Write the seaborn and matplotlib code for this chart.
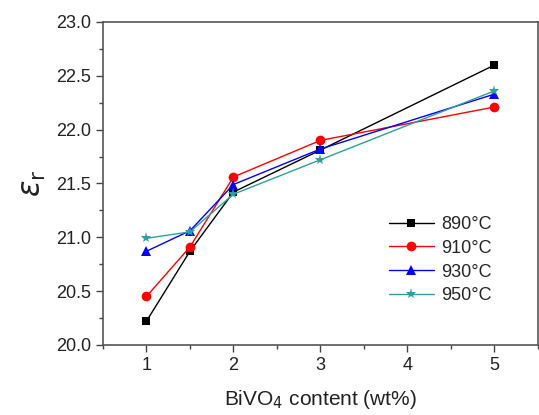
import pandas as pd
import matplotlib.pyplot as plt
import seaborn as sns
from matplotlib.ticker import MultipleLocator

# data
content = [1, 1.5, 2, 3, 5]
eps_890 = [20.22, 20.87, 21.42, 21.81, 22.60]
eps_910 = [20.45, 20.91, 21.56, 21.90, 22.21]
eps_930 = [20.87, 21.06, 21.49, 21.82, 22.33]
eps_950 = [20.99, 21.05, 21.40, 21.72, 22.36]
temps = ['890°C', '910°C', '930°C', '950°C']

rows = []
for t, vals in zip(temps, [eps_890, eps_910, eps_930, eps_950]):
    for x, v in zip(content, vals):
        rows.append({'content': x, 'eps': v, 'temp': t})
df = pd.DataFrame(rows)

sns.set_style('ticks')
plt.rcParams['font.family'] = ['Liberation Sans', 'DejaVu Sans']
plt.rcParams['mathtext.fontset'] = 'dejavusans'

fig = plt.figure(figsize=(5.39, 4.15), dpi=100)
ax = fig.add_axes([0.191, 0.169, 0.807, 0.778])

palette = {'890°C': 'black', '910°C': 'red', '930°C': 'blue', '950°C': '#2f9e9e'}
markers = {'890°C': 's', '910°C': 'o', '930°C': '^', '950°C': '*'}
sizes = {'890°C': 6, '910°C': 7, '930°C': 7, '950°C': 8}

for t in temps:
    sub = df[df['temp'] == t]
    sns.lineplot(data=sub, x='content', y='eps', ax=ax, color=palette[t],
                 marker=markers[t], markersize=sizes[t], markeredgewidth=0,
                 linewidth=1.0, label=t)

ax.set_xlim(0.5, 5.5)
ax.set_ylim(20.0, 23.0)
ax.xaxis.set_major_locator(MultipleLocator(1))
ax.xaxis.set_minor_locator(MultipleLocator(0.5))
ax.yaxis.set_major_locator(MultipleLocator(0.5))
ax.yaxis.set_minor_locator(MultipleLocator(0.25))
ax.yaxis.set_major_formatter(plt.FormatStrFormatter('%.1f'))
ax.tick_params(which='major', length=5, width=1, color='#444444',
               labelsize=13, labelcolor='#222222', direction='out')
ax.tick_params(which='minor', length=3, width=1, color='#444444', direction='out')
for s in ax.spines.values():
    s.set_color('#555555')
    s.set_linewidth(1.2)

ax.set_xlabel('BiVO$_4$ content (wt%)', fontsize=15, color='#222222', labelpad=10)
ax.set_ylabel(r'$\varepsilon_\mathrm{r}$', fontsize=22, color='#222222', labelpad=6)

ax.legend(loc='upper left', bbox_to_anchor=(0.62, 0.45), frameon=False,
          fontsize=13, handlelength=2.5, labelspacing=0.38, handletextpad=0.4)

plt.savefig('out.png', dpi=100)
